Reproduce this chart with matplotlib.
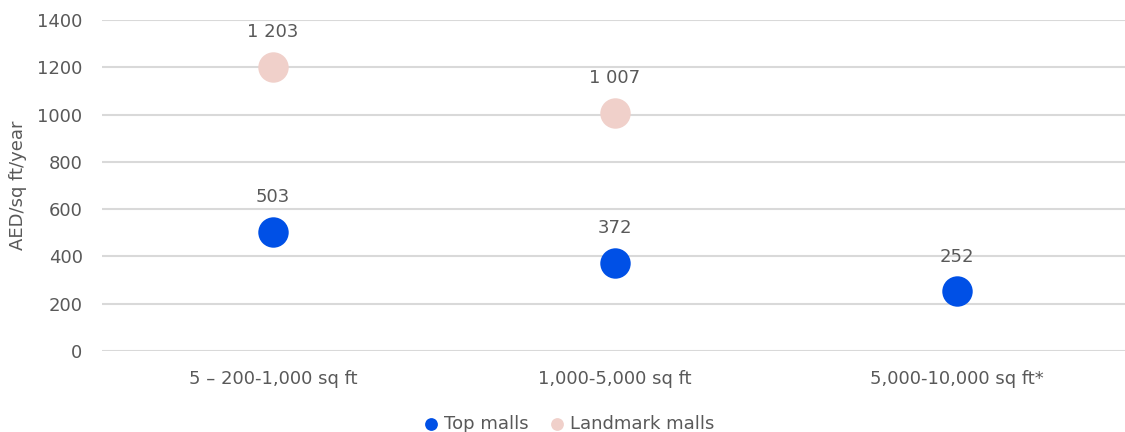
import numpy as np
import matplotlib
matplotlib.use('Agg')
import matplotlib.pyplot as plt

categories = ['5 – 200-1,000 sq ft', '1,000-5,000 sq ft', '5,000-10,000 sq ft*']
top_malls = [503, 372, 252]
landmark_malls = [1203, 1007, None]

BLUE = '#0050e6'
PINK = '#f0d0ca'
TEXT = '#595959'

plt.rcParams['font.family'] = ['DejaVu Sans']
plt.rcParams['font.sans-serif'] = ['DejaVu Sans']
FS = 13

fig = plt.figure(figsize=(11.25, 4.32), dpi=100)
ax = fig.add_axes([0.0907, 0.1875, 0.9116, 0.7662])

x = np.arange(len(categories))
lm_x = [i for i, v in zip(x, landmark_malls) if v is not None]
lm_y = [v for v in landmark_malls if v is not None]

ax.scatter(x, top_malls, s=480, color=BLUE, zorder=3, label='Top malls', linewidths=0)
ax.scatter(lm_x, lm_y, s=480, color=PINK, zorder=3, label='Landmark malls', linewidths=0)

def fmt(v):
    return f'{v:,}'.replace(',', ' ')

for xi, v in list(zip(x, top_malls)) + list(zip(lm_x, lm_y)):
    ax.annotate(fmt(v), (xi, v), xytext=(0, 25), textcoords='offset points',
                ha='center', va='center', fontsize=FS, color=TEXT)

ax.set_xlim(-0.5, 2.5)
ax.set_ylim(0, 1400)
ax.set_yticks(range(0, 1401, 200))
ax.set_xticks(x)
ax.set_xticklabels(categories)
ax.tick_params(axis='both', length=0, labelsize=FS, labelcolor=TEXT)
ax.tick_params(axis='x', pad=14)
ax.tick_params(axis='y', pad=14)
ax.grid(axis='y', color='#d9d9d9', linewidth=1.5)
ax.set_axisbelow(True)
for s in ax.spines.values():
    s.set_visible(False)
ax.set_ylabel('AED/sq ft/year', fontsize=FS, color=TEXT, labelpad=7)

ax.legend(loc='center', bbox_to_anchor=(0.45, -0.22), ncol=2, frameon=False,
          fontsize=FS, labelcolor=TEXT, handletextpad=-0.3, columnspacing=0.6,
          markerscale=0.42)

fig.savefig('out.png', dpi=100)
